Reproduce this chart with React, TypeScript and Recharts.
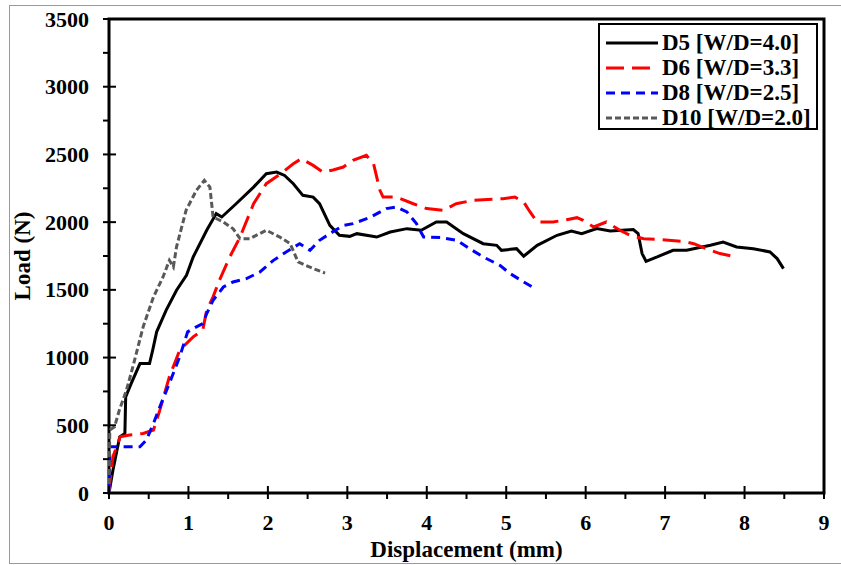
import React from "react";
import { Line, LineChart, ReferenceArea, XAxis, YAxis } from "recharts";

// Load-displacement curves
const d5Disp = [0, 0.05, 0.135, 0.2, 0.21, 0.28, 0.39, 0.51, 0.55, 0.6, 0.72, 0.85, 0.975, 1.06, 1.23, 1.35, 1.42, 1.6, 1.82, 1.98, 2.11, 2.21, 2.32, 2.44, 2.57, 2.65, 2.78, 2.9, 3.03, 3.12, 3.37, 3.54, 3.75, 3.93, 4.12, 4.25, 4.46, 4.71, 4.88, 4.94, 5.13, 5.22, 5.39, 5.64, 5.82, 5.95, 6.14, 6.31, 6.6, 6.66, 6.71, 6.76, 6.9, 7.1, 7.27, 7.57, 7.73, 7.9, 8.11, 8.32, 8.41, 8.49];
const d5Load = [0, 170, 415, 440, 710, 809, 956, 956, 1055, 1190, 1350, 1497, 1608, 1743, 1940, 2063, 2038, 2136, 2259, 2358, 2370, 2345, 2284, 2198, 2185, 2136, 1976, 1903, 1895, 1915, 1890, 1927, 1952, 1940, 2001, 2001, 1915, 1841, 1829, 1792, 1804, 1748, 1829, 1903, 1934, 1915, 1952, 1934, 1945, 1915, 1768, 1711, 1743, 1792, 1792, 1829, 1853, 1817, 1804, 1780, 1731, 1657];

const d6Disp = [0, 0.01, 0.05, 0.14, 0.26, 0.43, 0.56, 0.64, 0.76, 0.89, 1.06, 1.18, 1.23, 1.31, 1.39, 1.52, 1.65, 1.82, 1.98, 2.19, 2.32, 2.42, 2.57, 2.69, 2.82, 2.95, 3.07, 3.24, 3.33, 3.41, 3.45, 3.62, 3.83, 4.0, 4.21, 4.37, 4.58, 4.96, 5.11, 5.22, 5.3, 5.39, 5.59, 5.76, 5.89, 5.97, 6.1, 6.26, 6.43, 6.56, 6.73, 6.93, 7.23, 7.36, 7.52, 7.69, 7.9];
const d6Load = [0, 71, 268, 415, 428, 440, 465, 612, 858, 1055, 1153, 1202, 1350, 1448, 1571, 1743, 1890, 2136, 2284, 2370, 2431, 2468, 2419, 2370, 2385, 2407, 2456, 2493, 2431, 2235, 2185, 2185, 2136, 2100, 2087, 2136, 2161, 2173, 2185, 2148, 2075, 2001, 2001, 2018, 2033, 2013, 1964, 2001, 1940, 1903, 1878, 1871, 1858, 1841, 1804, 1768, 1743];

const d8Disp = [0, 0.01, 0.14, 0.39, 0.47, 0.56, 0.64, 0.76, 0.89, 0.99, 1.1, 1.18, 1.23, 1.31, 1.44, 1.56, 1.73, 1.9, 2.07, 2.23, 2.4, 2.53, 2.65, 2.82, 2.95, 3.07, 3.28, 3.49, 3.62, 3.75, 3.87, 3.96, 4.17, 4.38, 4.54, 4.71, 4.92, 5.05, 5.22, 5.36];
const d8Load = [0, 341, 341, 341, 391, 514, 636, 809, 1006, 1190, 1227, 1251, 1325, 1423, 1521, 1558, 1583, 1632, 1718, 1780, 1841, 1792, 1866, 1930, 1975, 1989, 2033, 2100, 2112, 2075, 1989, 1890, 1886, 1866, 1804, 1743, 1681, 1620, 1558, 1510];

const d10Disp = [0, 0.01, 0.07, 0.13, 0.22, 0.3, 0.43, 0.56, 0.68, 0.76, 0.81, 0.85, 0.97, 1.1, 1.2, 1.27, 1.31, 1.44, 1.56, 1.65, 1.77, 1.98, 2.15, 2.28, 2.38, 2.57, 2.72];
const d10Load = [0, 465, 489, 612, 760, 931, 1227, 1448, 1595, 1718, 1669, 1817, 2087, 2235, 2308, 2259, 2038, 2001, 1952, 1878, 1878, 1940, 1890, 1841, 1706, 1657, 1624];

const xTicks = [0, 0.5, 1, 1.5, 2, 2.5, 3, 3.5, 4, 4.5, 5, 5.5, 6, 6.5, 7, 7.5, 8, 8.5, 9];
const yTicks = [0, 250, 500, 750, 1000, 1250, 1500, 1750, 2000, 2250, 2500, 2750, 3000, 3250, 3500];

const seriesNames = ["D5 [W/D=4.0]", "D6 [W/D=3.3]", "D8 [W/D=2.5]", "D10 [W/D=2.0]"];
const seriesColors = ["#000000", "#ff0000", "#0000ff", "#595959"];
const seriesDash = ["", "18 8", "9 6", "6 3"];

const toPoints = (xs: number[], ys: number[]) => xs.map((x, i) => ({ x, y: ys[i] }));

const FONT = "'Liberation Serif', 'Times New Roman', serif";
const PLOT_LEFT = 109;
const PLOT_BOTTOM = 493;

const YTick = (props: any) => {
  const { y, payload } = props;
  const major = payload.value % 500 === 0;
  return (
    <g>
      <line x1={PLOT_LEFT - 6} x2={major ? PLOT_LEFT + 7 : PLOT_LEFT} y1={y} y2={y} stroke="#000" strokeWidth={2} />
      {major && (
        <text x={89} y={y} textAnchor="end" dominantBaseline="central" fontFamily={FONT} fontWeight="bold" fontSize={22} fill="#000">
          {payload.value}
        </text>
      )}
    </g>
  );
};

const XTick = (props: any) => {
  const { x, payload } = props;
  const major = Number.isInteger(payload.value);
  return (
    <g>
      <line x1={x} x2={x} y1={major ? PLOT_BOTTOM - 7 : PLOT_BOTTOM} y2={PLOT_BOTTOM + 6} stroke="#000" strokeWidth={2} />
      {major && (
        <text x={x} y={522} textAnchor="middle" dominantBaseline="central" fontFamily={FONT} fontWeight="bold" fontSize={22} fill="#000">
          {payload.value}
        </text>
      )}
    </g>
  );
};

const LegendBox = () => (
  <div
    style={{
      position: "absolute",
      left: 598,
      top: 23,
      width: 220,
      height: 107,
      border: "2px solid #000",
      background: "#fff",
      boxSizing: "border-box",
      padding: "5px 0 0 6px",
    }}
  >
    {seriesNames.map((name, i) => (
      <div key={name} style={{ display: "flex", alignItems: "center", height: 25 }}>
        <svg width={52} height={10} style={{ marginRight: 4 }}>
          <line x1={0} x2={52} y1={5} y2={5} stroke={seriesColors[i]} strokeWidth={3} strokeDasharray={seriesDash[i] || undefined} />
        </svg>
        <span style={{ fontFamily: FONT, fontWeight: "bold", fontSize: 23, lineHeight: "24px", color: "#000", whiteSpace: "nowrap" }}>
          {name}
        </span>
      </div>
    ))}
  </div>
);

export default function App() {
  const series = [
    toPoints(d5Disp, d5Load),
    toPoints(d6Disp, d6Load),
    toPoints(d8Disp, d8Load),
    toPoints(d10Disp, d10Load),
  ];

  return (
    <div style={{ position: "absolute", left: 0, top: 0, width: 841, height: 565, background: "#fff", overflow: "hidden" }}>
      <div
        style={{
          position: "absolute",
          left: 9,
          top: 5,
          width: 840,
          height: 559,
          borderLeft: "1px solid #9a9a9a",
          borderTop: "1px solid #9a9a9a",
          borderBottom: "1px solid #9a9a9a",
          boxSizing: "border-box",
        }}
      />
      <LineChart
        width={841}
        height={565}
        margin={{ top: 19, right: 17, bottom: 0, left: 0 }}
        style={{ position: "absolute", left: 0, top: 0 }}
      >
        <XAxis
          type="number"
          dataKey="x"
          domain={[0, 9]}
          ticks={xTicks}
          interval={0}
          tick={<XTick />}
          tickLine={false}
          axisLine={false}
          height={72}
          label={{ value: "Displacement (mm)", position: "insideBottom", offset: 8, fontFamily: FONT, fontWeight: "bold", fontSize: 23, fill: "#000" }}
        />
        <YAxis
          type="number"
          domain={[0, 3500]}
          ticks={yTicks}
          interval={0}
          tick={<YTick />}
          tickLine={false}
          width={109}
          axisLine={false}
          label={{ value: "Load (N)", angle: -90, position: "insideLeft", offset: 22, fontFamily: FONT, fontWeight: "bold", fontSize: 23, fill: "#000", style: { textAnchor: "middle" } }}
        />
        <ReferenceArea x1={0} x2={9} y1={0} y2={3500} fill="none" stroke="#000" strokeWidth={3} ifOverflow="visible" />
        {series.map((data, i) => (
          <Line
            key={seriesNames[i]}
            data={data}
            dataKey="y"
            name={seriesNames[i]}
            type="linear"
            stroke={seriesColors[i]}
            strokeWidth={3}
            strokeDasharray={seriesDash[i] || undefined}
            dot={false}
            isAnimationActive={false}
          />
        ))}
      </LineChart>
      <LegendBox />
    </div>
  );
}
